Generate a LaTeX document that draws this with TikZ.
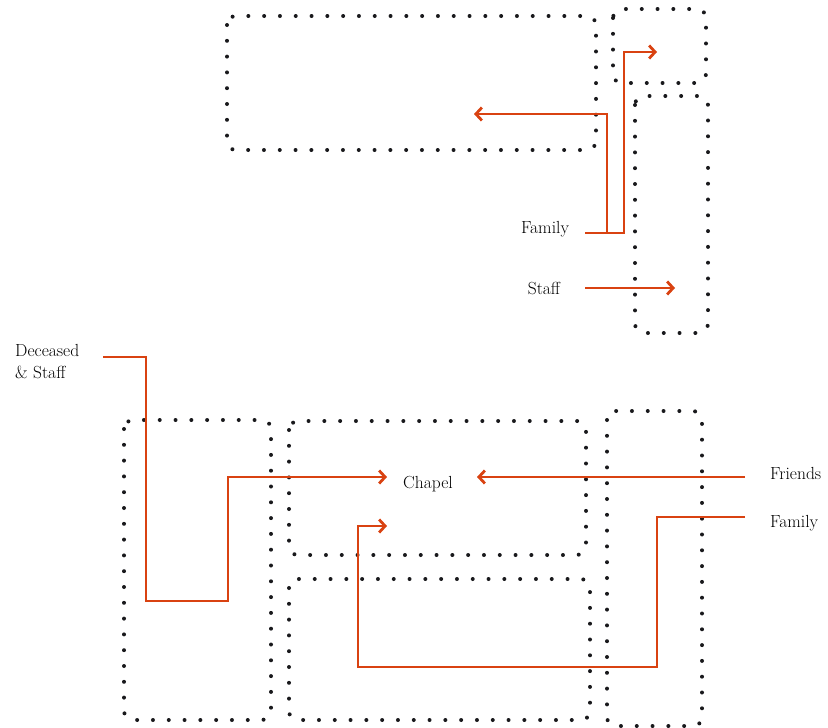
\documentclass[tikz,border=0pt]{standalone}
\usetikzlibrary{arrows.meta}
\definecolor{flow}{RGB}{217,66,17}
\definecolor{dotc}{RGB}{25,25,28}
\begin{document}
\begin{tikzpicture}[x=1pt,y=-1pt,
  zone/.style={draw=dotc, line width=4pt, line cap=round, dash pattern=on 0pt off 15.8pt, rounded corners=9pt},
  flowline/.style={draw=flow, line width=2.8pt, -{Straight Barb[length=6pt,width=13pt]}},
  lbl/.style={font=\fontsize{17.5}{22}\selectfont, inner sep=0pt, text=black}]
\useasboundingbox (0,0) rectangle (828,728);

% dotted zones
\draw[zone] (227,16) rectangle (596,150);
\draw[zone] (613,9) rectangle (706,83);
\draw[zone] (635,96) rectangle (708,333);
\draw[zone] (124,420) rectangle (271,720);
\draw[zone] (289,421) rectangle (586,555);
\draw[zone] (289,579) rectangle (590,720);
\draw[zone] (607,411) rectangle (702,726);

% labels
\node[lbl] (famtop) at (545,229) {Family};
\node[lbl] (stafftop) at (544,288) {Staff};
\node[lbl, align=left, anchor=north west] (dec) at (15,344) {Deceased\\\& Staff};
\node[lbl] (chapel) at (428,484) {Chapel};
\node[lbl, anchor=west] (friends) at (770,473) {Friends};
\node[lbl, anchor=west] (fambot) at (770,523) {Family};

% connector end points
\coordinate (famstart) at (585,233);
\coordinate (famtipA) at (474,114);
\coordinate (famtipB) at (657,52);
\coordinate (staffstart) at (585,288);
\coordinate (stafftip) at (675,288);
\coordinate (decstart) at (103,357);
\coordinate (dectip) at (387,477);
\coordinate (frstart) at (745,477);
\coordinate (frtip) at (477,477);
\coordinate (fbstart) at (745,517);
\coordinate (fbtip) at (387,526);

% flows
\draw[flowline] (famstart) -- (607,233) -- (607,114) -- (famtipA);
\draw[flowline] (famstart) -- (624,233) -- (624,52) -- (famtipB);
\draw[flowline] (staffstart) -- (stafftip);
\draw[flowline] (decstart) -- (146,357) -- (146,601) -- (228,601) -- (228,477) -- (dectip);
\draw[flowline] (frstart) -- (frtip);
\draw[flowline] (fbstart) -- (657,517) -- (657,667) -- (358,667) -- (358,526) -- (fbtip);
\end{tikzpicture}
\end{document}
